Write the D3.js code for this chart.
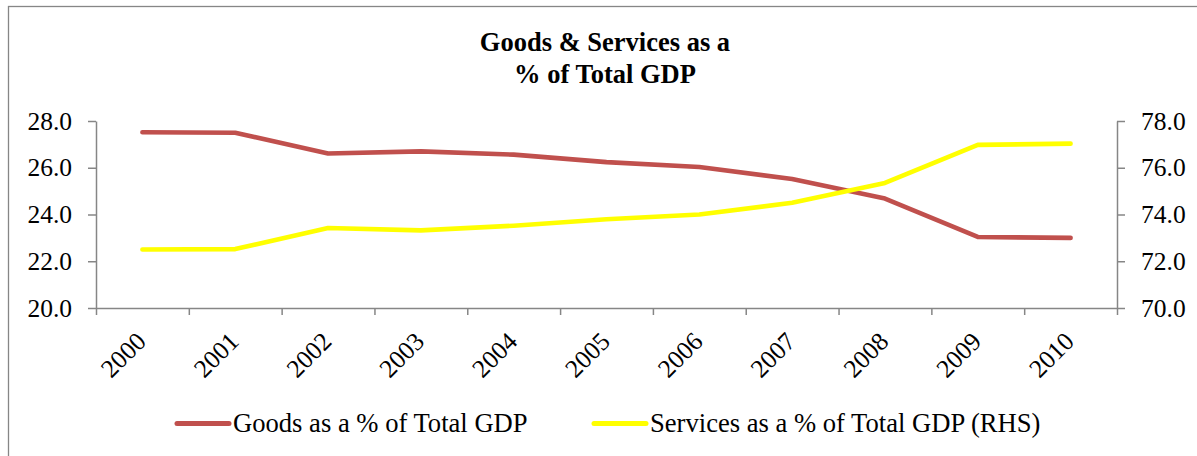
<!DOCTYPE html>
<html>
<head>
<meta charset="utf-8">
<script src="https://cdn.jsdelivr.net/npm/d3@7"></script>
<style>
  html, body { margin: 0; padding: 0; background: #fff; }
  svg { display: block; }
</style>
</head>
<body>
<svg id="chart" width="1197" height="456"></svg>
<script>
const years = ["2000","2001","2002","2003","2004","2005","2006","2007","2008","2009","2010"];
const goods = [27.52, 27.50, 26.61, 26.70, 26.56, 26.24, 26.03, 25.52, 24.68, 23.04, 23.00];
const services = [72.50, 72.52, 73.42, 73.32, 73.52, 73.80, 74.00, 74.50, 75.35, 76.98, 77.03];
const leftTicks = [20, 22, 24, 26, 28];
const rightTicks = [70, 72, 74, 76, 78];
const titleLines = ["Goods & Services as a", "% of Total GDP"];
const seriesNames = ["Goods as a % of Total GDP", "Services as a % of Total GDP (RHS)"];

(function () {
const FONT = '"Liberation Serif", "Times New Roman", serif';
const svg = d3.select("#chart");
const pLeft = 96, pRight = 1117, pTop = 121, pBottom = 308;
const axisColor = "#868686";
const red = "#C0504D", yellow = "#FFFF00";

// outer border
svg.append("rect").attr("x", 8.5).attr("y", 6.5).attr("width", 1200).attr("height", 470)
  .attr("fill", "#fff").attr("stroke", axisColor).attr("stroke-width", 1.3);

// title
const title = svg.append("text").attr("text-anchor", "middle")
  .style("font-family", FONT).style("font-weight", "bold").style("font-size", "26.5px").attr("fill", "#000");
titleLines.forEach((t, i) => {
  title.append("tspan").attr("x", 605).attr("y", 51 + i * 32).text(t);
});

const x = d3.scaleBand().domain(years).range([pLeft, pRight]).paddingInner(0).paddingOuter(0);
const xEdge = d3.scaleLinear().domain([0, years.length]).range([pLeft, pRight]);
const yL = d3.scaleLinear().domain([20, 28]).range([pBottom, pTop]);
const yR = d3.scaleLinear().domain([70, 78]).range([pBottom, pTop]);
const fmt = d3.format(".1f");

function styleAxis(g) {
  g.attr("font-family", null).attr("font-size", null);
  g.selectAll("path.domain").attr("stroke", axisColor).attr("stroke-width", 1.5);
  g.selectAll(".tick line").attr("stroke", axisColor).attr("stroke-width", 1.5);
  g.selectAll(".tick text").attr("fill", "#000")
    .style("font-size", "25.5px").style("font-family", FONT);
}

// left axis
svg.append("g").attr("transform", `translate(${pLeft},0)`)
  .call(d3.axisLeft(yL).tickValues(leftTicks).tickFormat(fmt).tickSize(8).tickSizeOuter(0).tickPadding(16))
  .call(styleAxis);

// right axis
svg.append("g").attr("transform", `translate(${pRight},0)`)
  .call(d3.axisRight(yR).tickValues(rightTicks).tickFormat(fmt).tickSize(8).tickSizeOuter(0).tickPadding(16))
  .call(styleAxis);

// bottom axis: ticks at band edges
svg.append("g").attr("transform", `translate(0,${pBottom})`)
  .call(d3.axisBottom(xEdge).tickValues(d3.range(years.length + 1)).tickFormat("").tickSize(7).tickSizeOuter(0))
  .call(styleAxis);

// x labels, rotated
svg.append("g").selectAll("text").data(years).join("text")
  .attr("text-anchor", "end")
  .style("font-size", "25.5px").style("font-family", FONT)
  .attr("fill", "#000")
  .attr("transform", d => `translate(${x(d) + x.bandwidth() / 2 + 5},${pBottom + 35}) rotate(-45)`)
  .text(d => d);

// lines
const cx = (d, i) => x(years[i]) + x.bandwidth() / 2;
const lineGoods = d3.line().x((d, i) => cx(d, i)).y(d => yL(d));
const lineServ = d3.line().x((d, i) => cx(d, i)).y(d => yR(d));

svg.append("path").datum(goods).attr("d", lineGoods)
  .attr("fill", "none").attr("stroke", red).attr("stroke-width", 4.6)
  .attr("stroke-linecap", "round").attr("stroke-linejoin", "round");
svg.append("path").datum(services).attr("d", lineServ)
  .attr("fill", "none").attr("stroke", yellow).attr("stroke-width", 4.6)
  .attr("stroke-linecap", "round").attr("stroke-linejoin", "round");

// legend
const legendItems = [
  { name: seriesNames[0], color: red, x0: 177, x1: 229, tx: 233 },
  { name: seriesNames[1], color: yellow, x0: 594, x1: 646, tx: 650 }
];
const lg = svg.append("g");
legendItems.forEach(it => {
  lg.append("line").attr("x1", it.x0).attr("x2", it.x1).attr("y1", 423.5).attr("y2", 423.5)
    .attr("stroke", it.color).attr("stroke-width", 5).attr("stroke-linecap", "round");
  lg.append("text").attr("x", it.tx).attr("y", 432)
    .style("font-size", "26.6px").style("font-family", FONT).attr("fill", "#000").text(it.name);
});
})();
</script>
</body>
</html>
